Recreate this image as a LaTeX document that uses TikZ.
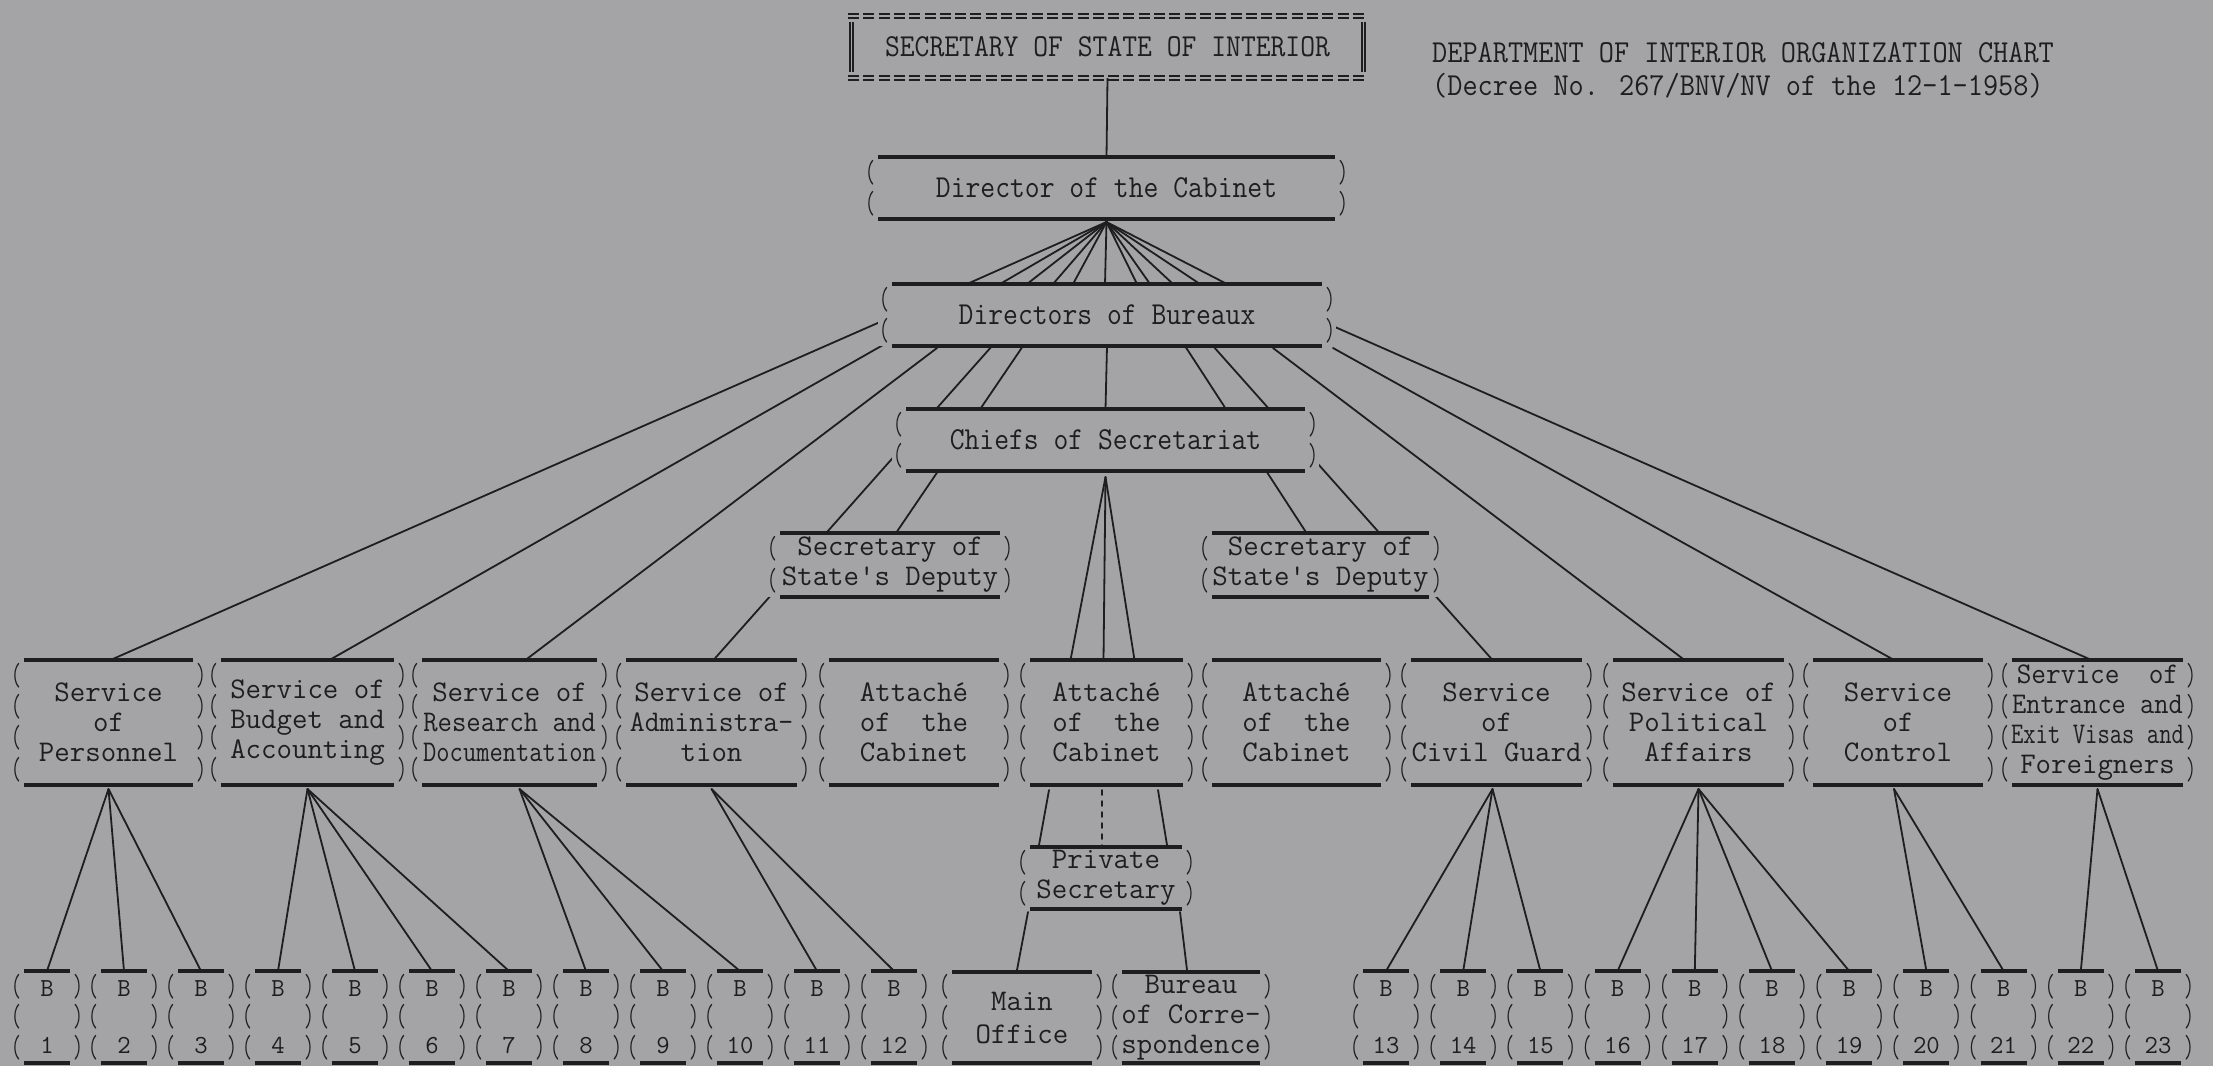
\documentclass[tikz,border=0pt]{standalone}
\usepackage{fontspec}
\usepackage{graphicx}
\usetikzlibrary{calc}
\definecolor{paper}{RGB}{164,164,166}
\definecolor{ink}{RGB}{30,30,32}
\pgfdeclarelayer{back}
\pgfdeclarelayer{wires}
\pgfsetlayers{back,wires,main}
% typewriter faces
\newcommand\svcfont{\fontsize{30}{30}\selectfont\ttfamily}
\newcommand\bigfont{\fontsize{32}{32}\selectfont\ttfamily}
\newcommand\bfont{\fontsize{26}{28.5}\selectfont\ttfamily}
\newcommand\nar[2]{\scalebox{#1}[1]{#2}}
\tikzset{
  box/.style={rectangle, inner sep=0pt, outer sep=0pt, fill=paper, text=ink, align=center, font=\svcfont},
  sz/.style 2 args={minimum width={#1+28}, minimum height=#2},
  rule/.style={draw=ink, line width=3.5pt},
  paren/.style={inner sep=0pt, text=ink, font=\fontsize{32}{32}\selectfont\ttfamily},
  wire/.style={draw=ink, line width=1.8pt, line cap=round},
  eq/.style={draw=ink, line width=1.6pt, dash pattern=on 11pt off 4.3pt},
}
% typed frame: heavy rules top and bottom, stacked parentheses on both sides
\newcommand\frm[2]{%
  \draw[rule] ([xshift=14]#1.north west) -- ([xshift=-14]#1.north east);
  \draw[rule] ([xshift=14]#1.south west) -- ([xshift=-14]#1.south east);
  \foreach \i in {1,...,#2}{%
    \node[paren] (#1l\i) at ($(#1.north west)!{(\i-0.5)/#2}!(#1.south west)+(6,0)$) {\nar{0.6}{(}};
    \node[paren] (#1r\i) at ($(#1.north east)!{(\i-0.5)/#2}!(#1.south east)+(-6,0)$) {\nar{0.6}{)}};
  }}
\begin{document}
\begin{tikzpicture}[x=1pt,y=-1pt]
\begin{pgfonlayer}{back}
  \fill[paper] (0,0) rectangle (2213,1066);
\end{pgfonlayer}
\useasboundingbox (0,0) rectangle (2213,1066);

% ---- head and title
\node[box, minimum width=519, minimum height=62] (SS) at (1107.5,47)
  {\raisebox{-5pt}{\bigfont\nar{0.9}{SECRETARY OF STATE OF INTERIOR}}};
\node[anchor=base west, inner sep=0pt, text=ink, font=\bigfont] (T1) at (1432,62)
  {\nar{0.92}{DEPARTMENT OF INTERIOR ORGANIZATION CHART}};
\node[anchor=base west, inner sep=0pt, text=ink, font=\bigfont] (T2) at (1432,95)
  {\nar{0.92}{(Decree No. 267/BNV/NV of the 12-1-1958)}};

% ---- upper levels
\node[box, sz={457}{62}, font=\bigfont] (DC) at (1106.5,188) {\nar{0.9}{Director of the Cabinet}};
\node[box, sz={430}{62}, font=\bigfont] (DB) at (1107,315) {\nar{0.9}{Directors of Bureaux}};
\node[box, sz={399}{62}, font=\bigfont] (CS) at (1105.5,440) {\nar{0.9}{Chiefs of Secretariat}};
\node[box, sz={220}{64}] (DL) at (890,565) {Secretary of\\State's Deputy};
\node[box, sz={217}{64}] (DR) at (1320.5,565) {Secretary of\\State's Deputy};

% ---- services
\node[box, sz={169}{125}] (S1) at (108.5,722.5) {Service\\of\\Personnel};
\node[box, sz={173}{125}] (S2) at (307.5,722.5) {Service of\\Budget and\\Accounting};
\node[box, sz={175}{125}] (S3) at (509.5,722.5) {Service of\\\nar{0.93}{Research and}\\\nar{0.86}{Documentation}};
\node[box, sz={171}{125}] (S4) at (711.5,722.5) {Service of\\\nar{0.96}{Administra-}\\tion};
\node[box, sz={170}{125}] (S5) at (914,722.5) {Attaché\\of\ \ the\\Cabinet};
\node[box, sz={153}{125}] (S6) at (1106.5,722.5) {Attaché\\of\ \ the\\Cabinet};
\node[box, sz={169}{125}] (S7) at (1296.5,722.5) {Attaché\\of\ \ the\\Cabinet};
\node[box, sz={171}{125}] (S8) at (1496.5,722.5) {Service\\of\\Civil Guard};
\node[box, sz={171}{125}] (S9) at (1698.5,722.5) {Service of\\Political\\Affairs};
\node[box, sz={170}{125}] (S10) at (1898,722.5) {Service\\of\\Control};
\node[box, sz={171}{125}] (S11) at (2097.5,722.5)
  {\nar{0.95}{Service\ \ of}\\\nar{0.92}{Entrance and}\\\nar{0.8}{Exit Visas and}\\Foreigners};

% ---- private secretary and offices
\node[box, sz={152}{62}] (PS) at (1106,878) {Private\\Secretary};
\node[box, sz={140}{91}, font=\fontsize{30}{33}\selectfont\ttfamily] (MO) at (1022,1017.5) {Main\\Office};
\node[box, sz={138}{91}] (BC) at (1191,1017.5) {Bureau\\of Corre-\\spondence};

% ---- bureaux
\foreach \k in {1,...,12}
  \node[box, sz={46}{92}, font=\bfont] (B\k) at ({47+77*(\k-1)},1017) {B\\\mbox{}\\\k};
\foreach \k in {13,...,23}
  \node[box, sz={46}{92}, font=\bfont] (B\k) at ({1386+77.2*(\k-13)},1017) {B\\\mbox{}\\\k};

% ---- frames
\draw[eq] ([yshift=2]SS.north west) -- ([yshift=2]SS.north east);
\draw[eq] ([yshift=-2]SS.north west) -- ([yshift=-2]SS.north east);
\draw[eq] ([yshift=2]SS.south west) -- ([yshift=2]SS.south east);
\draw[eq] ([yshift=-2]SS.south west) -- ([yshift=-2]SS.south east);
\foreach \dx in {2,5}{
  \draw[ink, line width=1.2pt] ([xshift=\dx,yshift=-6]SS.north west) -- ([xshift=\dx,yshift=6]SS.south west);
  \draw[ink, line width=1.2pt] ([xshift=-\dx,yshift=-6]SS.north east) -- ([xshift=-\dx,yshift=6]SS.south east);
}
\foreach \nm/\r in {DC/2,DB/2,CS/2,DL/2,DR/2,S1/4,S2/4,S3/4,S4/4,S5/4,S6/4,S7/4,S8/4,S9/4,S10/4,S11/4,PS/2,MO/3,BC/3}
  \frm{\nm}{\r};
\foreach \k in {1,...,23}
  \frm{B\k}{3};

% ---- connectors
\begin{pgfonlayer}{wires}
  \draw[wire] (SS.south) -- (DC.north);
  \foreach \d in {-140,-107,-80,-54,-34,-2,30,43,66,93,120}
    \draw[wire] ([yshift=-3]DC.south) -- ([xshift=\d]DB.north);
  \draw[wire] ([shift={(-227,7)}]DB.center) -- ([xshift=2]S1.north);
  \draw[wire] ([shift={(-224,30)}]DB.center) -- ([xshift=22]S2.north);
  \draw[wire] ([shift={(-170,33)}]DB.center) -- ([xshift=16]S3.north);
  \draw[wire] ([shift={(-115,31)}]DB.center) -- ([xshift=2]S4.north);
  \draw[wire] ([shift={(-84,31)}]DB.center) -- ([xshift=6]DL.north);
  \draw[wire] (DB.south) -- (CS.north);
  \draw[wire] ([shift={(78,31)}]DB.center) -- ([xshift=-14]DR.north);
  \draw[wire] ([shift={(106,31)}]DB.center) -- ([xshift=-4]S8.north);
  \draw[wire] ([shift={(166,33)}]DB.center) -- ([xshift=-14]S9.north);
  \draw[wire] ([shift={(226,33)}]DB.center) -- ([xshift=-4]S10.north);
  \draw[wire] ([shift={(228,12)}]DB.center) -- ([xshift=-6]S11.north);
  \foreach \d in {-36,-3,28}
    \draw[wire] ([yshift=-6]CS.south) -- ([xshift=\d]S6.north);
  \draw[wire] ([shift={(-57.5,5)}]S6.south) -- ([shift={(-67,-2)}]PS.north);
  \draw[wire, line width=1.5pt, dash pattern=on 5pt off 6pt] ([shift={(-4.5,5)}]S6.south) -- ([shift={(-4,-2)}]PS.north);
  \draw[wire] ([shift={(51.5,5)}]S6.south) -- ([shift={(61,-2)}]PS.north);
  \draw[wire] ([shift={(-78,3)}]PS.south) -- ([shift={(-5,-2)}]MO.north);
  \draw[wire] ([shift={(74,3)}]PS.south) -- ([shift={(-4,-2)}]BC.north);
  \foreach \b in {1,2,3} \draw[wire] ([yshift=-4]S1.south) -- (B\b.north);
  \foreach \b in {4,5,6,7} \draw[wire] ([yshift=-4]S2.south) -- (B\b.north);
  \foreach \b in {8,9,10} \draw[wire] ([xshift=10,yshift=-4]S3.south) -- (B\b.north);
  \foreach \b in {11,12} \draw[wire] ([yshift=-4]S4.south) -- (B\b.north);
  \foreach \b in {13,14,15} \draw[wire] ([xshift=-4,yshift=-4]S8.south) -- (B\b.north);
  \foreach \b in {16,17,18,19} \draw[wire] ([yshift=-4]S9.south) -- (B\b.north);
  \foreach \b in {20,21} \draw[wire] ([xshift=-4,yshift=-4]S10.south) -- (B\b.north);
  \foreach \b in {22,23} \draw[wire] ([yshift=-4]S11.south) -- (B\b.north);
\end{pgfonlayer}
\end{tikzpicture}
\end{document}
